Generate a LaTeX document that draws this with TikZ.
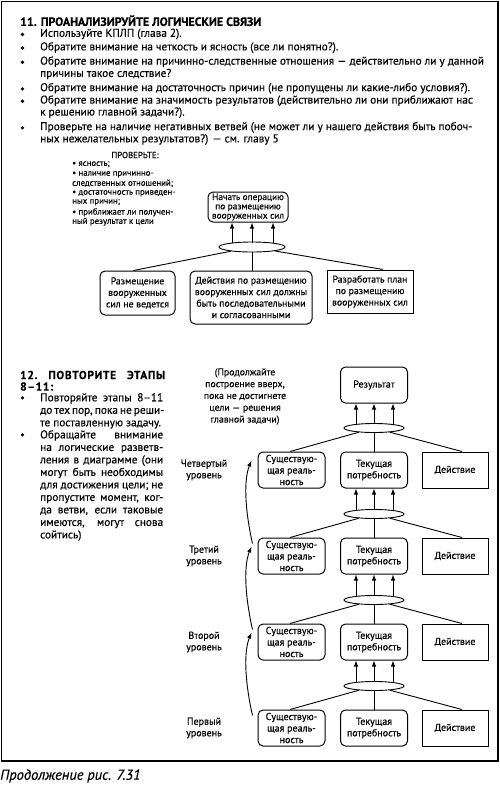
\documentclass[tikz,border=0pt]{standalone}
\usepackage{fontspec}
\setmainfont{PT Sans}[FakeBold=0.35]
\usetikzlibrary{shapes.geometric,arrows.meta,calc}
\tikzset{
 tx/.style={anchor=west, inner sep=0pt, font=\fontsize{11.3}{12.5}\selectfont},
 bul/.style={circle, fill, inner sep=0pt, minimum size=3.6pt},
 tb/.style={anchor=west, inner sep=0pt, font=\bfseries\fontsize{12}{12.5}\selectfont},
 sm/.style={anchor=west, inner sep=0pt, font=\fontsize{8.8}{9.8}\selectfont},
 rbox/.style={draw, rounded corners=5pt, line width=1pt, align=center, inner sep=0pt},
 sbox/.style={draw, line width=1pt, align=center, inner sep=0pt},
 oval/.style={draw, ellipse, line width=0.9pt, inner sep=0pt},
 arr/.style={-{Latex[length=6pt,width=4.5pt]}, line width=0.9pt},
 ln/.style={line width=0.9pt},
 lvl/.style={font=\fontsize{10}{11.5}\selectfont, align=center},
 bx/.style={font=\fontsize{9.8}{11.5}\selectfont},
}
\begin{document}
\begin{tikzpicture}[x=1pt,y=-1pt]
\useasboundingbox (0,0) rectangle (500,788);
\draw[line width=1.2pt] (1.2,1.2) rectangle (498,761);
% section 11
\node[tb] (t11) at (20,20.7) {11. ПРОАНАЛИЗИРУЙТЕ ЛОГИЧЕСКИЕ СВЯЗИ};
\foreach \y in {34,47.5,61.7,88.3,100.7,127.3}{\node[bul] at (22.5,\y+0.5) {};}
\node[tx] (l1) at (40,34) {Используйте КПЛП (глава 2).};
\node[tx] (l2) at (40,47.5) {Обратите внимание на четкость и ясность (все ли понятно?).};
\node[tx] (l3) at (40,61.7) {Обратите внимание на причинно-следственные отношения — действительно ли у данной};
\node[tx] (l3b) at (40,74) {причины такое следствие?};
\node[tx] (l4) at (40,88.3) {Обратите внимание на достаточность причин (не пропущены ли какие-либо условия?).};
\node[tx] (l5) at (40,100.7) {Обратите внимание на значимость результатов (действительно ли они приближают нас};
\node[tx] (l5b) at (40,112.7) {к решению главной задачи?).};
\node[tx] (l6) at (40,127.3) {Проверьте на наличие негативных ветвей (не может ли у нашего действия быть побоч-};
\node[tx] (l6b) at (40,139.5) {ных нежелательных результатов?) — см. главу 5};
% check block
\node[inner sep=0pt, font=\fontsize{8.8}{9.8}\selectfont] (chk) at (135,155) {ПРОВЕРЬТЕ:};
\node[sm] (c1) at (72,164.3) {• ясность;};
\node[sm] (c2) at (72,174.3) {• наличие причинно-};
\node[sm] (c3) at (72,183.3) {следственных отношений;};
\node[sm] (c4) at (72,193.3) {• достаточность приведен-};
\node[sm] (c5) at (72,202.3) {ных причин;};
\node[sm] (c6) at (72,212.3) {• приближает ли получен-};
\node[sm] (c7) at (72,221.7) {ный результат к цели};
% top diagram
\node[rbox, minimum width=80pt, minimum height=30pt, font=\fontsize{9.3}{9.3}\selectfont] (op) at (248,207) {Начать операцию\\по размещению\\вооруженных сил};
\node[oval, minimum width=66pt, minimum height=10pt] (e0) at (252,247) {};
\foreach \dx in {-20,0,21}{
  \draw[arr] ($(e0.center)+(\dx,-4)$) -- ($(op.south)+(\dx+4,0)$);
}
\node[rbox, bx, minimum width=75pt, minimum height=44pt] (b1) at (137.5,293) {Размещение\\вооруженных\\сил не ведется};
\node[rbox, bx, minimum width=122pt, minimum height=53pt] (b2) at (251,297.5) {Действия по размещению\\вооруженных сил должны\\быть последовательными\\и согласованными};
\node[sbox, bx, minimum width=86pt, minimum height=43pt] (b3) at (370,291.5) {Разработать план\\по размещению\\вооруженных сил};
\draw[ln] (e0) -- ($(b1.north)+(-4,0)$);
\draw[ln] (e0) -- (e0 |- b2.north);
\draw[ln] (e0) -- ($(b3.north)+(13,0)$);
% section 12
\node[tb, anchor=west, font=\bfseries\fontsize{11.5}{12.5}\selectfont\addfontfeatures{LetterSpace=6}] (t12) at (20,375) {\makebox[145pt][s]{12.\ ПОВТОРИТЕ\ ЭТАПЫ}};
\node[tb, font=\bfseries\fontsize{11.5}{12.5}\selectfont\addfontfeatures{LetterSpace=6}] (t12b) at (20,386.5) {8–11:};
\node[bul] at (22.5,397.8) {};
\node[bul] at (22.5,434.8) {};
\node[tx, align=left, anchor=north west] (p1) at (40,393) {\makebox[123pt][s]{Повторяйте этапы 8–11}\\\makebox[123pt][s]{до тех пор, пока не реши-}\\те поставленную задачу.};
\node[tx, align=left, anchor=north west] (p2) at (40,430) {\makebox[123pt][s]{Обращайте внимание}\\\makebox[123pt][s]{на логические разветв-}\\\makebox[123pt][s]{ления в диаграмме (они}\\\makebox[123pt][s]{могут быть необходимы}\\\makebox[123pt][s]{для достижения цели; не}\\\makebox[123pt][s]{пропустите момент, ког-}\\\makebox[123pt][s]{да ветви, если таковые}\\\makebox[123pt][s]{имеются, могут снова}\\сойтись)};
\node[lvl, font=\fontsize{9.8}{11.8}\selectfont] (cont) at (245,396.5) {(Продолжайте\\построение вверх,\\пока не достигнете\\цели — решения\\главной задачи)};
% levels
\node[rbox, lvl, minimum width=67pt, minimum height=36pt] (res) at (374,385) {Результат};
\foreach \k/\T/\name in {1/710/Первый, 2/624/Второй, 3/538/Третий, 4/452/Четвертый}{
  \node[rbox, lvl, minimum width=67pt, minimum height=36pt] (a\k) at (291.5,\T+18) {Существую-\\щая реаль-\\ность};
  \node[rbox, lvl, minimum width=67pt, minimum height=36pt] (b\k) at (374,\T+18) {Текущая\\потребность};
  \node[sbox, lvl, minimum width=66pt, minimum height=36pt] (c\k) at (455,\T+18) {Действие};
  \node[oval, minimum width=60pt, minimum height=9pt] (e\k) at (374,\T-24) {};
  \node[lvl] (lab\k) at (204,\T+18) {\name\\уровень};
  \draw[ln] (e\k) -- ($(a\k.north)+(-1.5,0)$);
  \draw[ln] (e\k) -- (b\k.north);
  \draw[ln] (e\k) -- ($(c\k.north)+(7,0)$);
}
\foreach \k/\up in {1/b2,2/b3,3/b4,4/res}{
  \foreach \dx in {-18,0,19}{
    \draw[arr] ($(e\k.center)+(\dx,-3.6)$) -- ($(\up.south)+(\dx,0)$);
  }
}
\foreach \k/\j in {1/2,2/3,3/4}{
  \coordinate (s\k) at ($(a\k.north west)+(-5,6)$);
  \coordinate (f\k) at ($(a\j.north west)+(-6,9)$);
  \draw[arr] (s\k) .. controls ($(s\k)+(-6,-26)$) and ($(f\k)+(-9,22)$) .. (f\k);
}
\node[anchor=west, inner sep=0pt, font=\itshape\fontsize{14.5}{16}\selectfont] (cap) at (0,776) {Продолжение рис. 7.31};
\end{tikzpicture}
\end{document}
